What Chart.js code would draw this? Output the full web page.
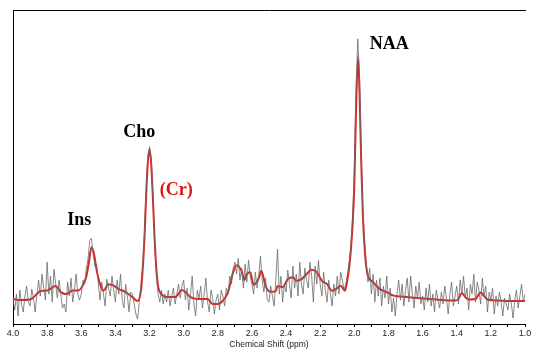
<!DOCTYPE html>
<html>
<head>
<meta charset="utf-8">
<script src="https://cdn.jsdelivr.net/npm/chart.js@4.4.0/dist/chart.umd.min.js"></script>
<style>
    html, body { margin: 0; padding: 0; background: #fff; }
    #spectrum { display: block; }
</style>
</head>
<body>
<canvas id="spectrum" width="535" height="350"></canvas>
<script>
// raw signal, one sample every 0.01 ppm from 4.00 down to 1.00
const rawStart = 4.0;
const rawStep = 0.01;
const rawSignal = [
    25, 14, 30, 8, 34, 20, 12, 28, 38, 22,
    18, 35, 26, 12, 30, 44, 28, 50, 36, 24,
    62, 30, 48, 22, 55, 40, 26, 44, 30, 16,
    20, 12, 42, 28, 46, 22, 35, 50, 30, 24,
    30, 44, 40, 56, 66, 84, 86, 70, 58, 60,
    40, 24, 42, 30, 18, 45, 36, 28, 48, 34,
    22, 44, 30, 50, 24, 16, 40, 28, 12, 32,
    30, 20, 10, 5, 22, 40, 58, 90, 132, 168,
    178, 165, 126, 82, 50, 30, 22, 34, 20, 30,
    22, 34, 18, 28, 36, 20, 30, 40, 26, 38,
    44, 24, 36, 14, 30, 48, 20, 8, 34, 26,
    38, 16, 30, 46, 22, 12, 34, 26, 10, 24,
    30, 14, 34, 28, 18, 36, 30, 48, 40, 56,
    62, 50, 66, 44, 56, 36, 60, 42, 64, 48,
    40, 30, 52, 36, 48, 68, 44, 32, 46, 24,
    22, 38, 28, 18, 44, 75, 30, 48, 22, 40,
    32, 54, 40, 26, 58, 36, 50, 28, 62, 40,
    30, 56, 44, 36, 62, 48, 22, 58, 40, 64,
    40, 28, 52, 34, 22, 44, 30, 18, 40, 28,
    48, 30, 52, 44, 34, 40, 50, 62, 78, 108,
    152, 236, 286, 250, 170, 112, 84, 60, 42, 56,
    30, 50, 22, 44, 28, 46, 18, 38, 26, 48,
    20, 36, 12, 26, 8, 30, 44, 24, 40, 18,
    34, 46, 22, 48, 30, 16, 38, 26, 42, 20,
    28, 14, 36, 22, 40, 18, 30, 12, 34, 24,
    16, 32, 20, 38, 26, 10, 30, 42, 18, 28,
    38, 20, 44, 30, 48, 26, 36, 14, 40, 30,
    50, 22, 42, 34, 20, 46, 28, 38, 12, 32,
    24, 36, 10, 28, 18, 32, 22, 8, 26, 20,
    14, 30, 20, 6, 24, 34, 16, 28, 40, 22,
    30
];

// fitted curve
const fitPpm = [
    4.00, 3.95, 3.90, 3.86, 3.84, 3.80, 3.75, 3.72, 3.69, 3.65,
    3.62, 3.59, 3.57, 3.555, 3.54, 3.525, 3.51, 3.49, 3.47, 3.44,
    3.41, 3.38, 3.34, 3.30, 3.27, 3.25, 3.24, 3.23, 3.22, 3.21,
    3.20, 3.19, 3.18, 3.17, 3.16, 3.15, 3.13, 3.10, 3.05, 3.01,
    2.99, 2.96, 2.90, 2.86, 2.83, 2.80, 2.77, 2.74, 2.71, 2.69,
    2.66, 2.645, 2.63, 2.61, 2.59, 2.56, 2.545, 2.52, 2.49, 2.46,
    2.45, 2.42, 2.39, 2.36, 2.34, 2.31, 2.28, 2.25, 2.22, 2.19,
    2.16, 2.13, 2.10, 2.08, 2.055, 2.04, 2.03, 2.02, 2.01, 2.00,
    1.99, 1.978, 1.97, 1.96, 1.95, 1.94, 1.93, 1.92, 1.89, 1.85,
    1.81, 1.77, 1.71, 1.63, 1.56, 1.52, 1.41, 1.39, 1.37, 1.35,
    1.33, 1.29, 1.26, 1.24, 1.22, 1.16, 1.06, 1.00
];
const fitSignal = [
    25, 24, 24.5, 30, 33, 33.5, 38, 32, 30, 33.5,
    33.5, 39, 48, 62, 77, 70, 54, 40, 33.5, 40,
    38.5, 35, 32, 27, 23, 34, 55, 85, 128, 162,
    175, 160, 125, 85, 55, 38, 30, 27, 27, 34,
    32, 27, 25, 25, 20, 20, 23.5, 32, 52, 59,
    53, 44, 50, 52, 39, 46, 53.5, 38, 32.3, 33,
    38, 37, 45, 47, 43.3, 45, 50, 54.3, 52, 43.3,
    40, 33.3, 36, 38.3, 33.3, 45, 57, 75, 100, 140,
    215, 268, 235, 165, 110, 77, 57, 48, 42, 35,
    32, 28.5, 27.3, 26, 25, 24.5, 23.5, 25, 31, 27,
    24.5, 25, 31.5, 28, 24.5, 23.5, 23, 23
];

const peakNames = ['Ins', 'Cho', '(Cr)', 'NAA'];
const peakLabelPpm = [3.612, 3.26, 3.044, 1.796];
const peakLabelVal = [104, 192, 134, 281];
const peakColors = ['#000', '#000', '#e01010', '#000'];

const rawPoints = rawSignal.map((v, i) => ({ x: rawStart - i * rawStep, y: v }));
const fitPoints = fitSignal.map((v, i) => ({ x: fitPpm[i], y: v }));

const peakLabels = {
    id: 'peakLabels',
    afterDatasetsDraw(chart) {
        const ctx = chart.ctx;
        const xs = chart.scales.x;
        const ys = chart.scales.y;
        ctx.save();
        ctx.font = 'bold 18px "Liberation Serif", "Times New Roman", serif';
        ctx.textAlign = 'center';
        ctx.textBaseline = 'middle';
        peakNames.forEach((name, i) => {
            ctx.fillStyle = peakColors[i];
            ctx.fillText(name, xs.getPixelForValue(peakLabelPpm[i]), ys.getPixelForValue(peakLabelVal[i]));
        });
        ctx.restore();
    }
};

const tickFont = { family: '"Liberation Sans", Arial, sans-serif', size: 9 };
const titleFont = { family: '"Liberation Sans", Arial, sans-serif', size: 8.5 };

new Chart(document.getElementById('spectrum'), {
    type: 'line',
    data: {
        datasets: [
            {
                label: 'raw',
                data: rawPoints,
                borderColor: '#6a6a6a',
                borderWidth: 0.8,
                pointRadius: 0,
                tension: 0
            },
            {
                label: 'fit',
                data: fitPoints,
                borderColor: '#d82828',
                borderWidth: 2,
                pointRadius: 0,
                cubicInterpolationMode: 'monotone'
            }
        ]
    },
    options: {
        responsive: false,
        animation: false,
        layout: { padding: { left: 13, right: 10, top: 10, bottom: 0 } },
        plugins: { legend: { display: false }, tooltip: { enabled: false } },
        scales: {
            x: {
                type: 'linear',
                reverse: true,
                min: 1.0,
                max: 4.0,
                border: { display: true, color: '#000', width: 1 },
                grid: { drawOnChartArea: false, drawTicks: true, tickLength: 3, color: '#000' },
                ticks: {
                    stepSize: 0.1,
                    autoSkip: false,
                    maxRotation: 0,
                    padding: 1,
                    color: '#222',
                    font: tickFont,
                    callback: v => Math.round(v * 10) % 2 === 0 ? v.toFixed(1) : ''
                },
                title: {
                    display: true,
                    text: 'Chemical Shift (ppm)',
                    color: '#222',
                    font: titleFont,
                    padding: { top: 0, bottom: 0 }
                }
            },
            xTop: {
                type: 'linear',
                position: 'top',
                border: { display: true, color: '#000', width: 1 },
                grid: { display: false, drawTicks: false },
                ticks: { display: false }
            },
            y: {
                min: 0,
                max: 315,
                border: { display: true, color: '#000', width: 1 },
                grid: { display: false, drawTicks: false },
                ticks: { display: false }
            }
        }
    },
    plugins: [peakLabels]
});
</script>
</body>
</html>
